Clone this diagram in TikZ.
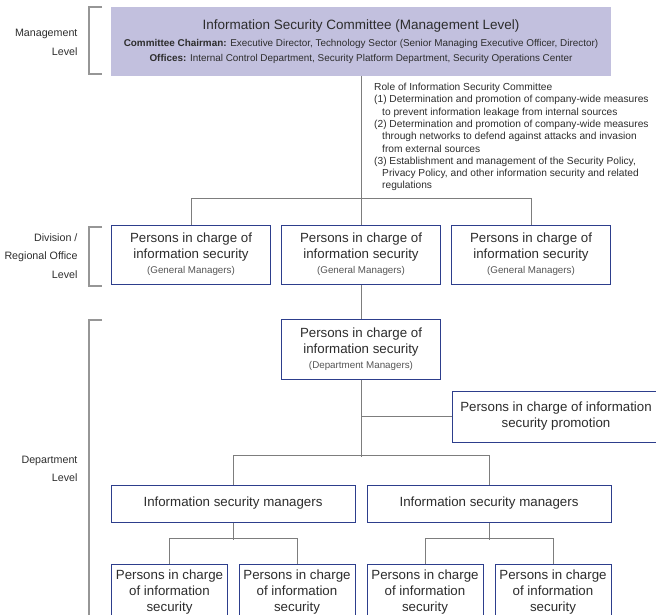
\documentclass[tikz,border=0pt]{standalone}
\usepackage{fontspec}
\setmainfont{Liberation Sans}
\newcommand\fsz[2]{\fontsize{#1}{#2}\selectfont}
\definecolor{lav}{RGB}{194,192,222}
\definecolor{boxblue}{RGB}{45,62,140}
\definecolor{linegray}{RGB}{125,125,125}
\definecolor{brkgray}{RGB}{150,150,150}
\definecolor{txt}{RGB}{45,45,45}
\definecolor{subtxt}{RGB}{85,85,85}
\begin{document}
\begin{tikzpicture}[x=1pt,y=-1pt,
  box/.style={draw=boxblue, line width=1pt, fill=white, align=center, inner sep=0pt,
    text=txt, font=\fsz{13.3}{16}},
  topbox/.style={fill=lav, align=center, inner sep=0pt, text=txt,
    minimum width=500, minimum height=69},
  conn/.style={draw=linegray, line width=0.9pt},
  brk/.style={draw=brkgray, line width=1.2pt},
  lvl/.style={align=right, anchor=east, text=txt, font=\fsz{10.7}{18.5}},
  role/.style={align=left, anchor=north west, text=txt, font=\fsz{10.2}{12.3}, inner sep=0pt}]
\useasboundingbox (0,0) rectangle (656,615);
\clip (0,0) rectangle (656,615);

% level labels and their brackets
\node[lvl] (lv1) at (81,42.5) {Management\\Level};
\node[lvl] (lv2) at (81,256) {Division /\\Regional Office\\Level};
\node[lvl] (lv3) at (81,469) {Department\\Level};
\draw[brk] (102,7) -- (89,7) -- (89,74) -- (102,74);
\draw[brk] (102,227) -- (89,227) -- (89,286) -- (102,286);
\draw[brk] (102,320) -- (89,320) -- (89,630);

% committee
\node[topbox] (com) at (361,41.5)
  {{\fsz{13.5}{16}Information Security Committee (Management Level)}\\[5pt]
   {\fsz{9.9}{12}\textbf{Committee Chairman:} Executive Director, Technology Sector (Senior Managing Executive Officer, Director)}\\[3pt]
   {\fsz{9.9}{12}\textbf{Offices:} Internal Control Department, Security Platform Department, Security Operations Center}};

\node[role] (role) at (374,83)
  {Role of Information Security Committee\\
   (1) Determination and promotion of company-wide measures\\
   \hspace*{8pt}to prevent information leakage from internal sources\\
   (2) Determination and promotion of company-wide measures\\
   \hspace*{8pt}through networks to defend against attacks and invasion\\
   \hspace*{8pt}from external sources\\
   (3) Establishment and management of the Security Policy,\\
   \hspace*{8pt}Privacy Policy, and other information security and related\\
   \hspace*{8pt}regulations};

% division / regional office level
\foreach \n/\x in {d1/191,d2/361,d3/531}
  \node[box, minimum width=159, minimum height=59] (\n) at (\x,254.5)
    {Persons in charge of\\information security\\[-1pt]{\fsz{9.8}{12}\color{subtxt}(General Managers)}};

% department level
\node[box, minimum width=159, minimum height=60] (dm) at (361,349)
  {Persons in charge of\\information security\\[-1pt]{\fsz{9.8}{12}\color{subtxt}(Department Managers)}};
\node[box, minimum width=208, minimum height=51] (pr) at (556,416.5)
  {Persons in charge of information\\security promotion};
\node[box, minimum width=244, minimum height=37] (m1) at (233,503.5) {Information security managers};
\node[box, minimum width=244, minimum height=37] (m2) at (489,503.5) {Information security managers};
\foreach \n/\x in {b1/169.5,b2/297,b3/425,b4/553}
  \node[box, minimum width=116, minimum height=56] (\n) at (\x,592)
    {Persons in charge\\of information\\security};

% connectors
\draw[conn] (com.south) -- (d2.north);
\draw[conn] (d1.north) -- ++(0,-26) -| (d3.north);
\draw[conn] (d2.south) -- (dm.north);
\draw[conn] (dm.south) |- (pr.west);
\draw[conn] (dm.south) -- ++(0,77);
\draw[conn] (m1.north) -- ++(0,-29) -| (m2.north);
\draw[conn] (m1.south) -- ++(0,17);
\draw[conn] (b1.north) -- ++(0,-25) -| (b2.north);
\draw[conn] (m2.south) -- ++(0,17);
\draw[conn] (b3.north) -- ++(0,-25) -| (b4.north);
\end{tikzpicture}
\end{document}
